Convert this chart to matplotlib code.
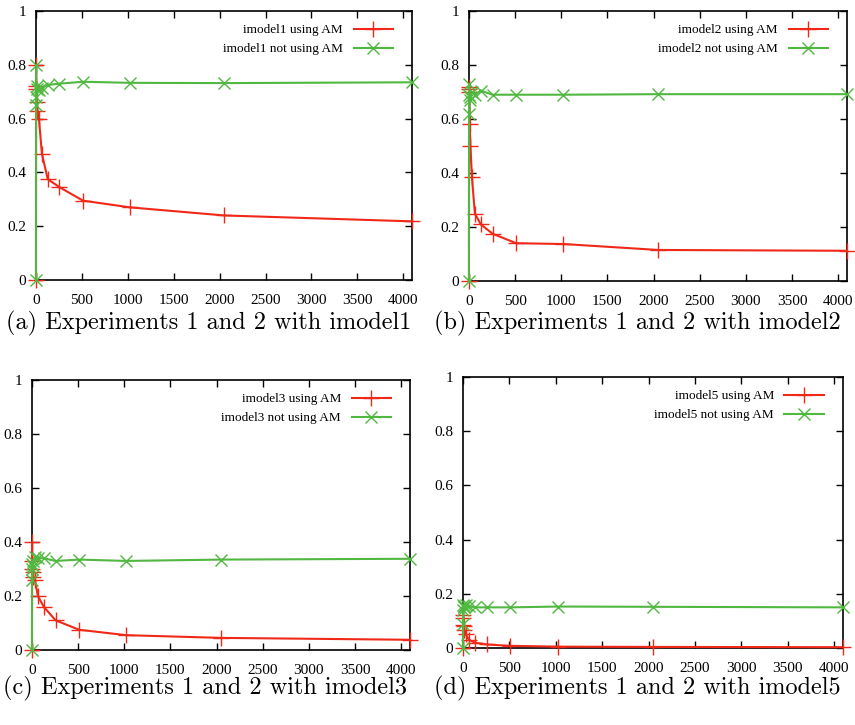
import matplotlib.pyplot as plt

# data
x = [0, 1, 2, 4, 8, 16, 32, 64, 128, 256, 512, 1024, 2048, 4096]
models = ["imodel1", "imodel2", "imodel3", "imodel5"]
captions = ["(a) Experiments 1 and 2 with imodel1", "(b) Experiments 1 and 2 with imodel2",
            "(c) Experiments 1 and 2 with imodel3", "(d) Experiments 1 and 2 with imodel5"]

am1 = [0, 0.80, 0.72, 0.71, 0.66, 0.63, 0.60, 0.47, 0.375, 0.345, 0.295, 0.27, 0.24, 0.218]
noam1 = [0, 0.80, 0.65, 0.68, 0.71, 0.72, 0.705, 0.715, 0.725, 0.73, 0.737, 0.733, 0.732, 0.735]
am2 = [0, 0.72, 0.71, 0.70, 0.58, 0.50, 0.385, 0.25, 0.21, 0.175, 0.14, 0.137, 0.115, 0.112]
noam2 = [0, 0.73, 0.62, 0.69, 0.67, 0.68, 0.70, 0.69, 0.705, 0.69, 0.69, 0.69, 0.692, 0.692]
am3 = [0, 0.40, 0.33, 0.30, 0.29, 0.27, 0.26, 0.20, 0.16, 0.11, 0.075, 0.055, 0.045, 0.038]
noam3 = [0, 0.32, 0.26, 0.30, 0.31, 0.33, 0.345, 0.34, 0.34, 0.33, 0.335, 0.33, 0.335, 0.338]
am5 = [0, 0.12, 0.11, 0.085, 0.08, 0.065, 0.05, 0.03, 0.02, 0.013, 0.008, 0.005, 0.004, 0.003]
noam5 = [0, 0.16, 0.09, 0.14, 0.15, 0.155, 0.16, 0.155, 0.15, 0.15, 0.15, 0.153, 0.152, 0.15]

am_all = [am1, am2, am3, am5]
noam_all = [noam1, noam2, noam3, noam5]

red = "#f02818"
green = "#50b840"

fig = plt.figure(figsize=(8.55, 7.25), dpi=100)
# axes boxes [left, bottom, width, height]
boxes = [[0.0421, 0.6138, 0.4398, 0.371],
         [0.5485, 0.6124, 0.4421, 0.3724],
         [0.0374, 0.1034, 0.4421, 0.3724],
         [0.5415, 0.1062, 0.4444, 0.3738]]
cap_pos = [(0.244, 0.554), (0.745, 0.554), (0.240, 0.051), (0.745, 0.051)]

for i in range(4):
    ax = fig.add_axes(boxes[i])
    ax.plot(x, am_all[i], color=red, lw=1.5, marker="+", ms=11, mew=1.0,
            label=models[i] + " using AM", clip_on=False, zorder=3)
    ax.plot(x, noam_all[i], color=green, lw=1.5, marker="x", ms=9, mew=1.0,
            label=models[i] + " not using AM", clip_on=False, zorder=3)
    ax.set_xlim(0, 4096)
    ax.set_ylim(0, 1)
    ax.set_xticks(range(0, 4001, 500))
    ax.set_yticks([0, 0.2, 0.4, 0.6, 0.8, 1])
    ax.set_yticklabels(["0", "0.2", "0.4", "0.6", "0.8", "1"])
    ax.tick_params(direction="in", top=True, right=True, length=5, width=1,
                   labelsize=11, pad=7)
    ax.tick_params(axis="x", pad=10)
    for lab in ax.get_xticklabels() + ax.get_yticklabels():
        lab.set_fontfamily("Liberation Serif")
    for s in ax.spines.values():
        s.set_linewidth(1.2)
    leg = ax.legend(loc="upper right", frameon=False, markerfirst=False,
                    prop={"family": "Liberation Serif", "size": 9.5},
                    handlelength=3.0, borderaxespad=0.6, labelspacing=0.5,
                    bbox_to_anchor=(0.985, 1.0))
    for t in leg.get_texts():
        t.set_ha("right")
    fig.text(cap_pos[i][0], cap_pos[i][1], captions[i], ha="center", va="center",
             fontsize=17.5, family="cmr10")

fig.savefig("out.png", dpi=100)
